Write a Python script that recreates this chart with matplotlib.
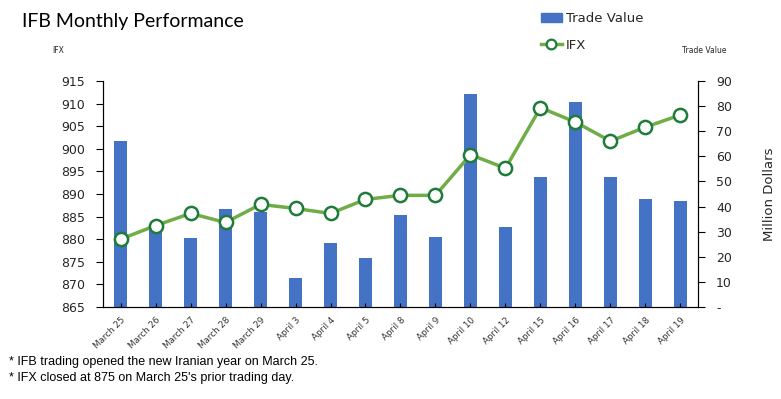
import matplotlib
matplotlib.use("Agg")
import matplotlib.pyplot as plt
from matplotlib.lines import Line2D
from matplotlib.patches import Patch

# data
dates = ['March 25', 'March 26', 'March 27', 'March 28', 'March 29', 'April 3', 'April 4',
         'April 5', 'April 8', 'April 9', 'April 10', 'April 12', 'April 15', 'April 16',
         'April 17', 'April 18', 'April 19']
trade_value = [66, 32, 27.5, 39, 37.8, 11.5, 25.5, 19.5, 36.6, 27.9, 84.8, 31.9, 51.8, 81.6,
               51.8, 43, 42.2]
ifx = [880, 883, 885.7, 883.7, 887.7, 886.8, 885.7, 888.8, 889.7, 889.7, 898.7, 895.7,
       909.1, 905.9, 901.7, 904.8, 907.5]

left_ticks = [865, 870, 875, 880, 885, 890, 895, 900, 905, 910, 915]
right_ticks = [0, 10, 20, 30, 40, 50, 60, 70, 80, 90]
right_labels = ['-'] + [str(t) for t in right_ticks[1:]]

bar_col = '#4472C4'
line_col = '#70AD47'
mark_col = '#1E7B3A'
txt_col = '#262626'

fig = plt.figure(figsize=(7.81, 3.99), dpi=100)
ax = fig.add_axes([0.1319, 0.2306, 0.7618, 0.5664])
x = list(range(len(dates)))

# bars on the base axes (shown on the right), line on the twin (shown on the left)
ax.bar(x, trade_value, width=0.37, color=bar_col)
ax.set_ylim(0, 90)
ax.set_xlim(-0.5, len(dates) - 0.5)
ax.set_xticks(x)
ax.set_xticklabels(dates, rotation=45, ha='right', rotation_mode='anchor',
                   fontsize=6.3, color='#333333')
ax.tick_params(axis='x', length=3, direction='in', pad=6)
ax.spines['top'].set_visible(False)

ax2 = ax.twinx()
ax2.plot(x, ifx, color=line_col, lw=2.5, marker='o', ms=9.5, mfc='white',
         mec=mark_col, mew=1.8, zorder=3)
ax2.set_ylim(865, 915)
ax2.set_yticks(left_ticks)
ax2.yaxis.tick_left()
ax2.tick_params(axis='y', labelsize=9, labelcolor=txt_col, length=5, pad=8)
ax2.spines['top'].set_visible(False)

# twinx moves the base ticks to the left, so put them back on the right
ax.yaxis.tick_right()
ax.set_yticks(right_ticks)
ax.set_yticklabels(right_labels)
ax.tick_params(axis='y', labelsize=9, labelcolor=txt_col, length=5, pad=8)

ax.text(1.12, 0.5, 'Million Dollars', transform=ax.transAxes, rotation=90,
        va='center', ha='center', fontsize=9.5, color=txt_col)

fig.text(0.028, 0.945, 'IFB Monthly Performance', fontsize=14, family='Lato',
         color='black', va='center')
fig.text(0.074, 0.873, 'IFX', fontsize=5.5, color=txt_col, va='center', ha='center')
fig.text(0.902, 0.873, 'Trade Value', fontsize=5.5, color=txt_col, va='center', ha='center')

handles = [Patch(color=bar_col),
           Line2D([0], [0], color=line_col, lw=2.5, marker='o', ms=7, mfc='white',
                  mec=mark_col, mew=1.6)]
fig.legend(handles, ['Trade Value', 'IFX'], loc='upper left', bbox_to_anchor=(0.677, 1.0),
           frameon=False, fontsize=9.5, handlelength=1.6, handletextpad=0.3,
           labelspacing=1.05, labelcolor=txt_col)

fig.text(0.012, 0.093, '* IFB trading opened the new Iranian year on March 25.',
         fontsize=9, family='Liberation Sans', color='black', va='center')
fig.text(0.012, 0.052, "* IFX closed at 875 on March 25's prior trading day.",
         fontsize=9, family='Liberation Sans', color='black', va='center')

fig.savefig('out.png', dpi=100)
